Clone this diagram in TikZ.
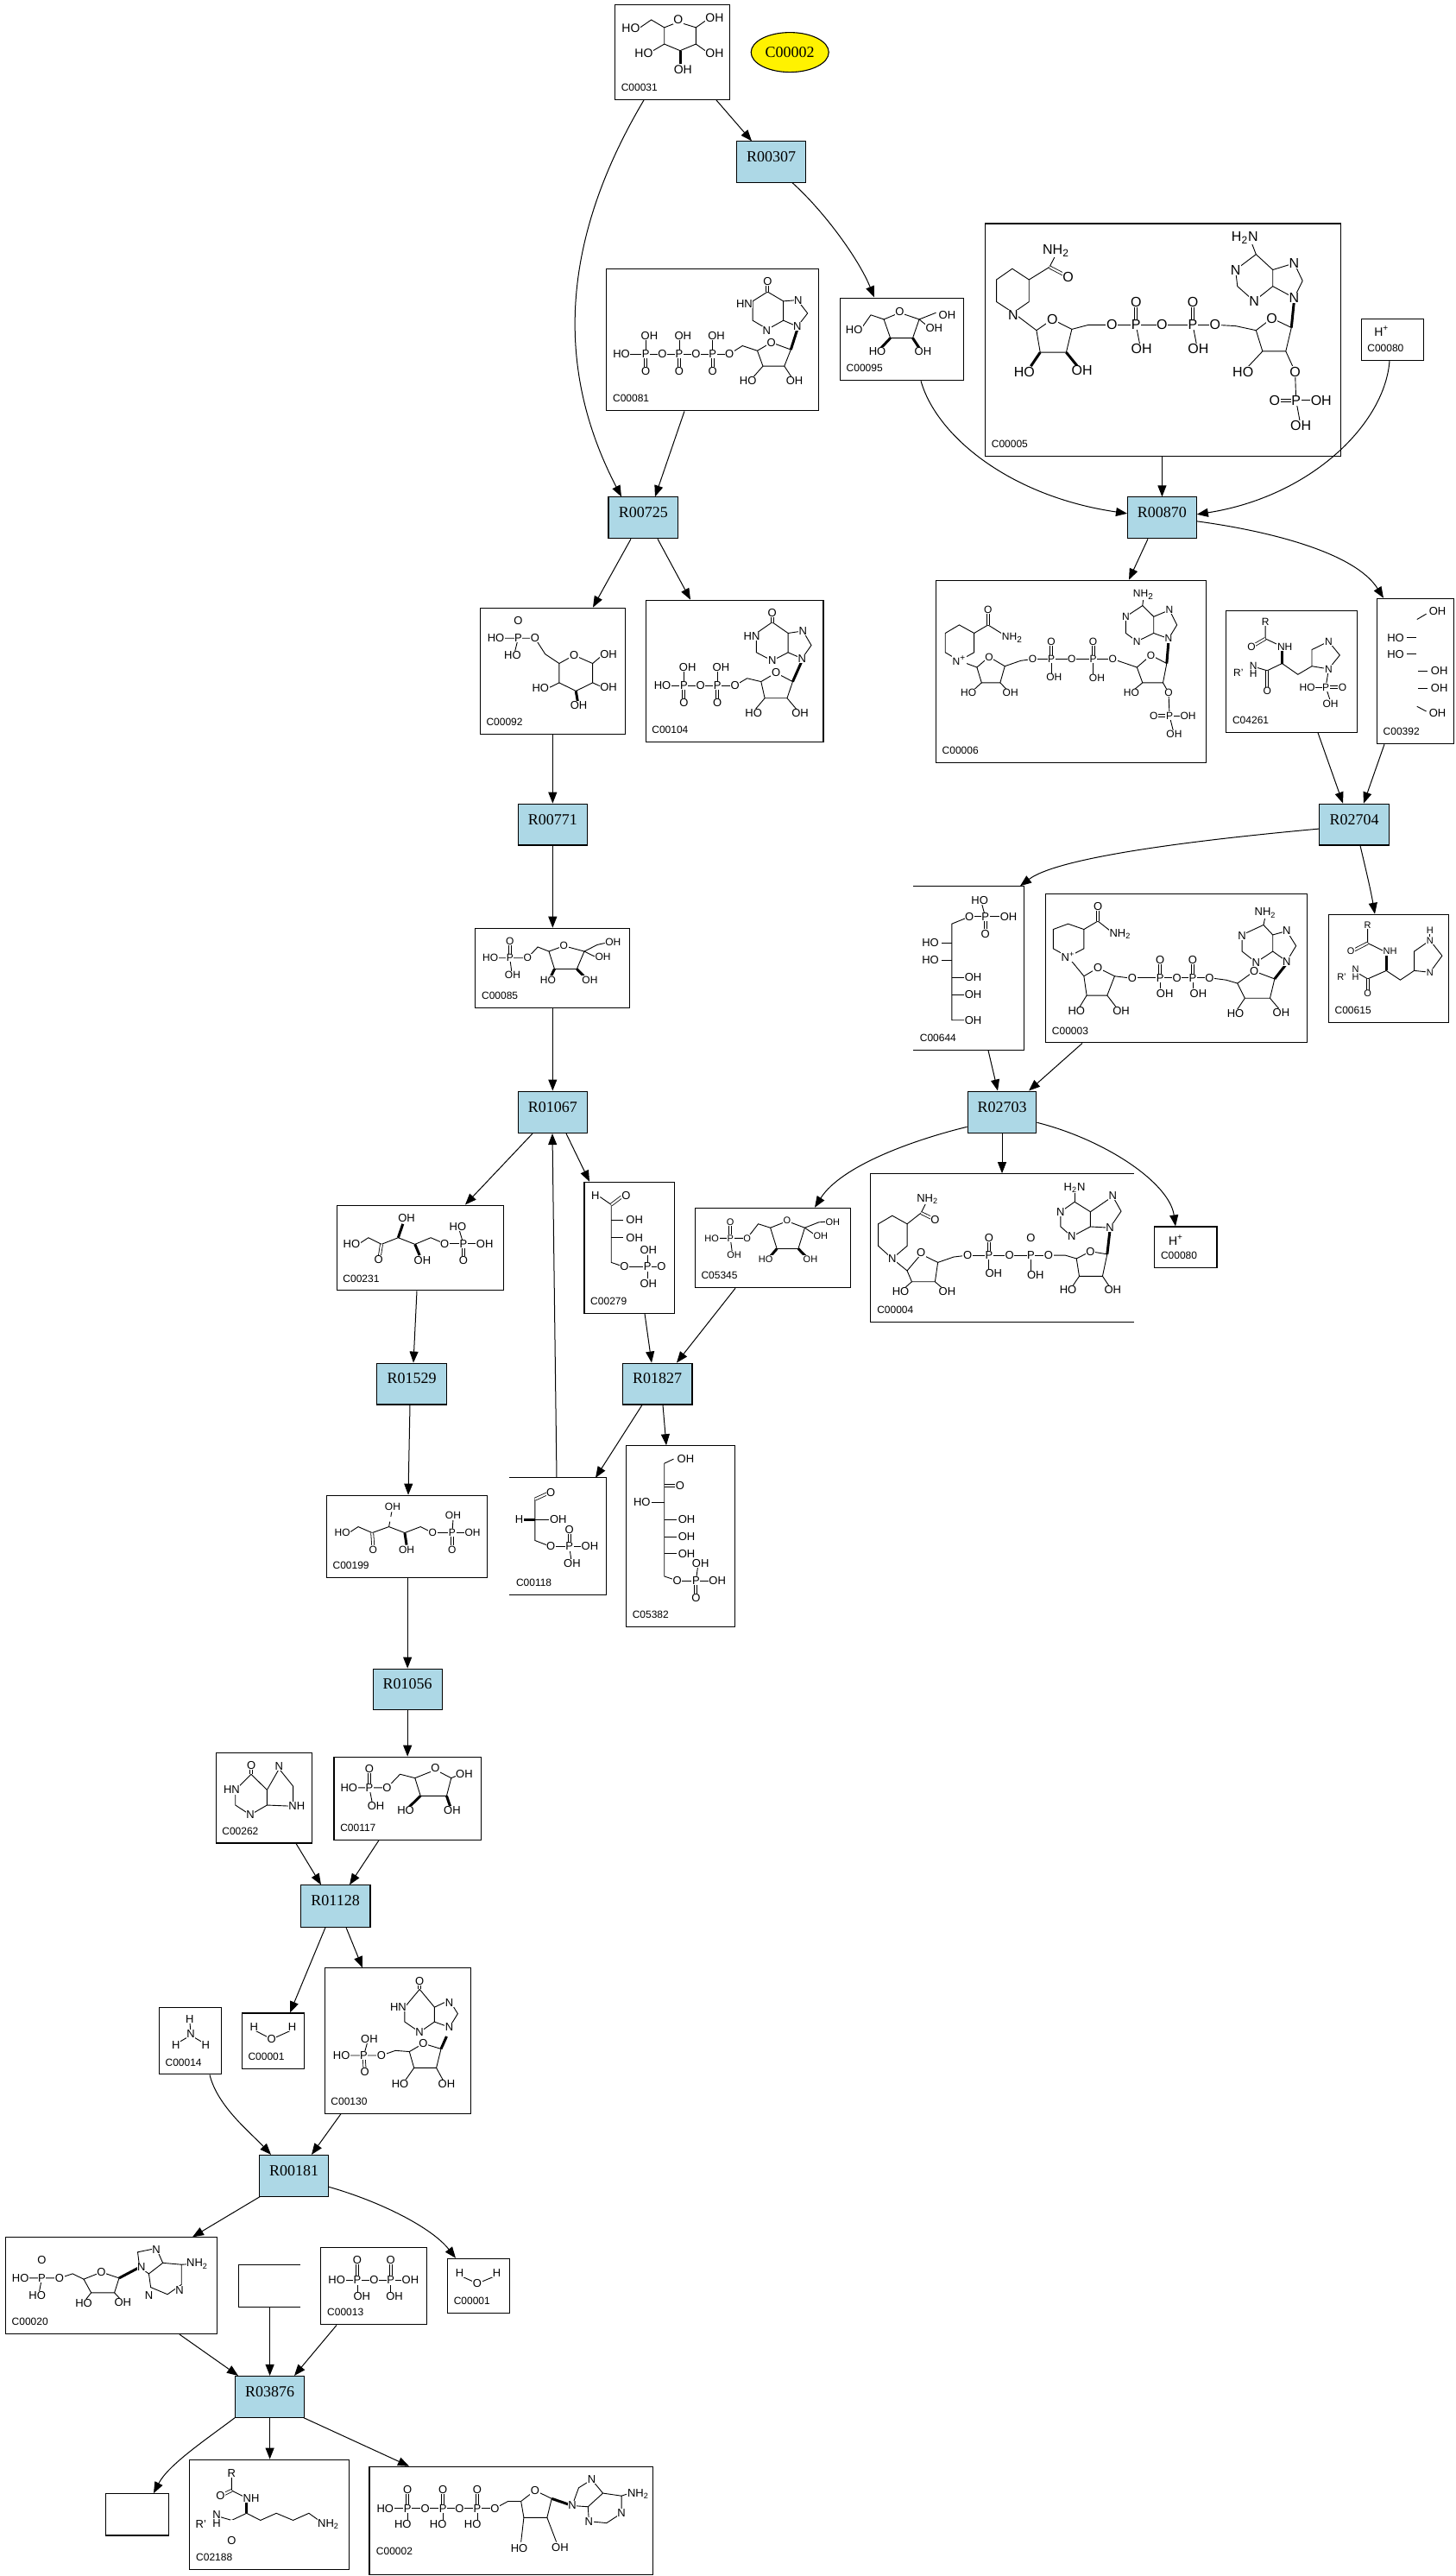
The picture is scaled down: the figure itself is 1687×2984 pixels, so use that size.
\documentclass[tikz,border=0pt]{standalone}
\usepackage{fontspec}
\setmainfont{Liberation Serif}
\setsansfont{Liberation Sans}
\usetikzlibrary{arrows.meta,fit,shapes.geometric}
\definecolor{rxnblue}{RGB}{173,216,230}
\newcommand\AFS[1]{\fontsize{#1}{#1}\selectfont}
\def\atsz{6.5}
\tikzset{
  rxn/.style={draw=black, fill=rxnblue, line width=0.55pt, inner sep=0pt, font=\rmfamily\AFS{9}},
  cbox/.style={draw=black, line width=0.55pt, inner sep=0pt},
  boxln/.style={line width=0.55pt},
  idl/.style={anchor=west, inner sep=0pt, font=\sffamily\AFS{6}},
  arr/.style={line width=0.5pt, -{Triangle[length=6.5pt,width=5pt]}},
  bd/.style={line width=0.45pt},
  db/.style={double, double distance=1.1pt, line width=0.4pt},
  wd/.style={line width=1.5pt},
  atm/.style={inner sep=0.3pt, fill=white, font=\sffamily\AFS{\atsz}},
  Z1/.style={x=0.539pt, y=-0.3189pt},
  Z2/.style={x=0.539pt, y=-0.3189pt, yshift=-500pt},
  Z3/.style={x=0.539pt, y=-0.3138pt, yshift=-1000pt},
}
\newcommand\Atm[2]{\node[atm] at (#1) {#2};}
\newcommand\Cpd[5][]{\node[cbox,#1, fit={(#3) (#4)}] (#2) {};
  \node[idl] at ([xshift=3.7pt,yshift=7.3pt]#2.south west) {#5};}
\newcommand\Rxn[3]{\node[rxn, fit={(#2) (#3)}] (#1) {#1};}
\begin{document}
\begin{tikzpicture}[x=0.5pt,y=-0.5pt]
\fill[white] (0,0) rectangle (1687,2984);
\useasboundingbox (0,0) rectangle (1687,2984);

%================ ZONE 1 =================
\begin{scope}[Z1]
\Cpd{C00031}{661,8}{784,181}{C00031}
\Cpd{C00081}{652,488}{880,746}{C00081}
\Cpd{C00095}{903,541}{1036,691}{C00095}
\Cpd{C00005}{1059,406}{1441,828}{C00005}
\Cpd{C00080a}{1463,579}{1530,654}{C00080}
\Cpd{C00092}{516,1104}{672,1334}{C00092}
\Cpd{C00104}{694,1090}{885,1348}{C00104}
\Cpd{C00006}{1006,1054}{1296,1385}{C00006}
\Cpd{C04261}{1318,1109}{1459,1330}{C04261}
\Cpd{C00392}{1480,1087}{1563,1351}{C00392}
\Rxn{R00307}{792,257}{866,331}
\Rxn{R00725}{654,903}{729,978}
\Rxn{R00870}{1212,903}{1286,978}
\Rxn{R00771}{557,1460}{631,1535}
\Rxn{R02704}{1418,1460}{1493,1535}
\node[draw=black, fill=yellow, ellipse, line width=0.55pt, minimum width=45pt, minimum height=23pt, inner sep=0pt, font=\rmfamily\AFS{9}] (C00002) at (849,95) {C00002};

% C00031
\begin{scope}\def\atsz{7}
\draw[bd] (729,40)--(748,50)--(748,80)--(731,92)--(714,80)--(714,50)--cycle;
\draw[bd] (714,50)--(700,36)--(688,50);
\draw[bd] (748,50)--(758,38);
\draw[bd] (748,80)--(758,92);
\draw[wd] (731,92)--(731,116);
\draw[bd] (714,80)--(702,92);
\Atm{729,35}{O} \Atm{678,52}{HO} \Atm{768,33}{OH} \Atm{692,96}{HO} \Atm{768,96}{OH} \Atm{734,127}{OH}
\end{scope}

% C00081
\draw[bd] (825,530)--(809,547)--(809,582)--(825,598)--(842,582)--(842,547)--cycle;
\draw[db] (825,530)--(825,515);
\draw[bd] (842,547)--(857,545)--(868,569)--(857,593)--(842,582);
\draw[bd] (814,637)--(829,622)--(850,635)--(843,665)--(820,665)--cycle;
\draw[wd] (850,635)--(857,598);
\draw[bd] (814,637)--(798,628)--(784,643);
\draw[bd] (820,665)--(808,688);
\draw[bd] (843,665)--(852,688);
\draw[bd] (668,643)--(784,643);
\foreach \x in {694,730,766}{\draw[bd] (\x,612)--(\x,643); \draw[db] (\x,643)--(\x,672);}
\Atm{825,511}{O} \Atm{800,552}{HN} \Atm{858,545}{N} \Atm{824,600}{N} \Atm{857,593}{N}
\Atm{698,610}{OH} \Atm{734,610}{OH} \Atm{770,610}{OH}
\Atm{668,643}{HO} \Atm{694,643}{P} \Atm{712,643}{O} \Atm{730,643}{P} \Atm{748,643}{O} \Atm{766,643}{P} \Atm{784,643}{O}
\Atm{694,675}{O} \Atm{730,675}{O} \Atm{766,675}{O}
\Atm{829,622}{O} \Atm{804,692}{HO} \Atm{854,692}{OH}

% C00095
\draw[bd] (950,580)--(967,568)--(988,580)--(981,614)--(957,614)--cycle;
\draw[bd] (950,580)--(936,572)--(926,596);
\draw[bd] (988,580)--(1006,568);
\draw[bd] (988,580)--(998,594);
\draw[wd] (981,614)--(988,632);
\draw[wd] (957,614)--(947,632);
\Atm{967,566}{O} \Atm{918,599}{HO} \Atm{1018,572}{OH} \Atm{1004,596}{OH} \Atm{943,638}{HO} \Atm{992,638}{OH}

% C00005
\begin{scope}\def\atsz{8}
\draw[bd] (1088,488)--(1106,508)--(1106,548)--(1089,568)--(1071,548)--(1071,508)--cycle;
\draw[bd] (1106,508)--(1128,485)--(1135,462);
\draw[db] (1128,485)--(1145,500);
\draw[bd] (1089,568)--(1114,600);
\draw[bd] (1114,600)--(1131,580)--(1152,598)--(1146,640)--(1118,640)--cycle;
\draw[bd] (1152,598)--(1170,590)--(1195,590);
\draw[wd] (1118,640)--(1108,665);
\draw[wd] (1146,640)--(1158,665);
\draw[bd] (1195,590)--(1306,590);
\draw[db] (1221,590)--(1221,552); \draw[bd] (1221,590)--(1225,625);
\draw[db] (1282,590)--(1282,552); \draw[bd] (1282,590)--(1286,625);
\draw[bd] (1306,590)--(1328,592)--(1350,600);
\draw[bd] (1350,600)--(1367,578)--(1388,595)--(1382,638)--(1357,638)--cycle;
\draw[wd] (1388,595)--(1391,545);
\draw[bd] (1357,638)--(1342,665);
\draw[bd] (1382,638)--(1392,675)--(1393,727)--(1398,773);
\draw[db] (1393,727)--(1370,727);
\draw[bd] (1393,727)--(1420,727);
\draw[bd] (1350,462)--(1328,490)--(1330,520)--(1348,547)--(1368,520)--(1368,490)--cycle;
\draw[bd] (1368,490)--(1391,478)--(1400,510)--(1391,541)--(1368,520);
\draw[bd] (1350,462)--(1345,440);
\Atm{1135,455}{NH\textsubscript{2}} \Atm{1148,503}{O} \Atm{1089,572}{N} \Atm{1131,580}{O}
\Atm{1195,590}{O} \Atm{1221,590}{P} \Atm{1249,590}{O} \Atm{1282,590}{P} \Atm{1306,590}{O}
\Atm{1221,548}{O} \Atm{1282,548}{O} \Atm{1227,634}{OH} \Atm{1288,634}{OH}
\Atm{1101,676}{HO} \Atm{1163,673}{OH}
\Atm{1338,432}{H\textsubscript{2}N} \Atm{1391,478}{N} \Atm{1328,490}{N} \Atm{1348,547}{N} \Atm{1391,541}{N}
\Atm{1367,578}{O} \Atm{1336,675}{HO} \Atm{1392,675}{O} \Atm{1370,727}{O} \Atm{1393,727}{P} \Atm{1420,727}{OH} \Atm{1398,773}{OH}
\end{scope}

% C00080a
\begin{scope}\def\atsz{7}
\Atm{1485,602}{H\textsuperscript{+}}
\end{scope}

% C00092
\draw[bd] (601,1205)--(617,1190)--(637,1205)--(637,1240)--(619,1255)--(601,1240)--cycle;
\draw[bd] (601,1205)--(586,1188)--(575,1159)--(533,1159);
\draw[db] (557,1159)--(557,1132);
\draw[bd] (557,1159)--(553,1186);
\draw[bd] (637,1205)--(646,1192);
\draw[bd] (637,1240)--(646,1247);
\draw[wd] (619,1255)--(621,1275);
\draw[bd] (601,1240)--(589,1250);
\Atm{557,1128}{O} \Atm{533,1159}{HO} \Atm{557,1159}{P} \Atm{575,1159}{O} \Atm{551,1190}{HO}
\Atm{617,1190}{O} \Atm{654,1189}{OH} \Atm{654,1248}{OH} \Atm{622,1281}{OH} \Atm{581,1250}{HO}

% C00104
\draw[bd] (830,1130)--(813,1150)--(813,1185)--(830,1200)--(847,1185)--(847,1150)--cycle;
\draw[db] (830,1130)--(830,1117);
\draw[bd] (847,1150)--(863,1146)--(872,1172)--(862,1196)--(847,1185);
\draw[bd] (818,1238)--(834,1222)--(852,1238)--(846,1268)--(822,1268)--cycle;
\draw[wd] (852,1238)--(862,1200);
\draw[bd] (818,1238)--(803,1232)--(790,1245);
\draw[bd] (822,1268)--(812,1288);
\draw[bd] (846,1268)--(856,1288);
\draw[bd] (712,1245)--(790,1245);
\foreach \x in {735,771}{\draw[bd] (\x,1214)--(\x,1245); \draw[db] (\x,1245)--(\x,1273);}
\Atm{830,1113}{O} \Atm{808,1155}{HN} \Atm{863,1146}{N} \Atm{830,1200}{N} \Atm{862,1196}{N}
\Atm{739,1212}{OH} \Atm{775,1212}{OH} \Atm{712,1245}{HO} \Atm{735,1245}{P} \Atm{753,1245}{O} \Atm{771,1245}{P} \Atm{790,1245}{O}
\Atm{735,1277}{O} \Atm{771,1277}{O} \Atm{834,1222}{O} \Atm{810,1295}{HO} \Atm{860,1295}{OH}

% C00006
\begin{scope}\def\atsz{6}
\draw[bd] (1031,1135)--(1047,1150)--(1047,1185)--(1031,1200)--(1016,1185)--(1016,1150)--cycle;
\draw[bd] (1047,1150)--(1062,1135)--(1078,1152);
\draw[db] (1062,1135)--(1062,1112);
\draw[bd] (1031,1200)--(1050,1212);
\draw[bd] (1050,1212)--(1063,1193)--(1080,1210)--(1075,1240)--(1055,1240)--cycle;
\draw[bd] (1080,1210)--(1097,1200)--(1110,1197);
\draw[bd] (1055,1240)--(1046,1254);
\draw[bd] (1075,1240)--(1083,1254);
\draw[bd] (1110,1197)--(1196,1197);
\foreach \x in {1130,1175}{\draw[db] (\x,1197)--(\x,1168); \draw[bd] (\x,1197)--(\x,1226);}
\draw[bd] (1196,1197)--(1210,1205)--(1222,1212);
\draw[bd] (1222,1212)--(1237,1190)--(1254,1205)--(1250,1240)--(1228,1240)--cycle;
\draw[wd] (1254,1205)--(1256,1164);
\draw[bd] (1228,1240)--(1218,1254);
\draw[bd] (1250,1240)--(1256,1258)--(1257,1300)--(1262,1334);
\draw[db] (1257,1300)--(1240,1300);
\draw[bd] (1257,1300)--(1277,1300);
\draw[bd] (1228,1100)--(1210,1120)--(1210,1150)--(1222,1165)--(1240,1150)--(1240,1120)--cycle;
\draw[bd] (1240,1120)--(1257,1108)--(1265,1135)--(1256,1160)--(1240,1150);
\draw[bd] (1228,1100)--(1229,1086);
\Atm{1062,1107}{O} \Atm{1088,1158}{NH\textsubscript{2}} \Atm{1031,1200}{N\textsuperscript{+}} \Atm{1063,1193}{O}
\Atm{1110,1197}{O} \Atm{1130,1197}{P} \Atm{1152,1197}{O} \Atm{1175,1197}{P} \Atm{1196,1197}{O}
\Atm{1130,1165}{O} \Atm{1175,1165}{O} \Atm{1133,1230}{OH} \Atm{1179,1232}{OH}
\Atm{1041,1258}{HO} \Atm{1086,1258}{OH}
\Atm{1229,1080}{NH\textsubscript{2}} \Atm{1257,1108}{N} \Atm{1210,1120}{N} \Atm{1222,1165}{N} \Atm{1256,1160}{N}
\Atm{1237,1190}{O} \Atm{1216,1258}{HO} \Atm{1256,1258}{O} \Atm{1240,1300}{O} \Atm{1257,1300}{P} \Atm{1277,1300}{OH} \Atm{1262,1334}{OH}
\end{scope}

% C04261
\begin{scope}\def\atsz{6}
\draw[bd] (1360,1137)--(1360,1160)--(1375,1172);
\draw[db] (1360,1160)--(1348,1172);
\draw[wd] (1378,1182)--(1378,1205);
\draw[bd] (1378,1205)--(1362,1218)--(1350,1212);
\draw[db] (1362,1218)--(1362,1250);
\draw[bd] (1378,1205)--(1395,1225)--(1410,1210);
\draw[bd] (1410,1210)--(1410,1180)--(1428,1165)--(1440,1190)--(1428,1215)--cycle;
\draw[bd] (1428,1215)--(1425,1248);
\draw[db] (1425,1248)--(1441,1248);
\draw[bd] (1425,1248)--(1405,1248);
\draw[bd] (1425,1248)--(1430,1274);
\Atm{1360,1130}{R} \Atm{1345,1175}{O} \Atm{1381,1175}{NH} \Atm{1347,1210}{N} \Atm{1347,1224}{H} \Atm{1331,1222}{R'}
\Atm{1362,1255}{O} \Atm{1428,1165}{N} \Atm{1428,1215}{N} \Atm{1405,1248}{HO} \Atm{1425,1248}{P} \Atm{1443,1248}{O} \Atm{1430,1278}{OH}
\end{scope}

% C00392
\draw[bd] (1523,1125)--(1533,1115);
\draw[bd] (1512,1158)--(1522,1158);
\draw[bd] (1512,1188)--(1522,1188);
\draw[bd] (1524,1219)--(1534,1219);
\draw[bd] (1524,1250)--(1534,1250);
\draw[bd] (1523,1283)--(1533,1292);
\Atm{1545,1110}{OH} \Atm{1500,1158}{HO} \Atm{1500,1188}{HO} \Atm{1547,1219}{OH} \Atm{1547,1250}{OH} \Atm{1545,1295}{OH}
\end{scope}

%================ ZONE 2 =================
\begin{scope}[Z2]
\Cpd{C00085}{511,118}{677,263}{C00085}
\Cpd[draw=none]{C00644}{982,42}{1100,339}{C00644}
\draw[boxln] (C00644.south west)--(C00644.south east)--(C00644.north east)--(C00644.north west);
\Cpd{C00003}{1124,55}{1405,326}{C00003}
\Cpd{C00615}{1428,93}{1557,289}{C00615}
\Cpd{C00231}{362,621}{541,776}{C00231}
\Cpd{C00279}{628,579}{725,817}{C00279}
\Cpd{C05345}{747,626}{914,771}{C05345}
\Cpd[draw=none]{C00004}{936,564}{1218,833}{C00004}
\draw[boxln] (C00004.north east)--(C00004.north west)--(C00004.south west)--(C00004.south east);
\Cpd{C00080b}{1241,660}{1308,735}{C00080}
\Cpd{C00199}{351,1148}{524,1298}{C00199}
\Cpd[draw=none]{C00118}{548,1117}{651,1328}{C00118}
\draw[boxln] (C00118.north west)--(C00118.north east)--(C00118.south east)--(C00118.south west);
\Cpd{C05382}{673,1058}{790,1387}{C05382}
\Rxn{R01067}{557,414}{631,490}
\Rxn{R02703}{1040,414}{1114,490}
\Rxn{R01529}{405,908}{480,983}
\Rxn{R01827}{669,908}{744,983}
\Rxn{R01056}{401,1463}{475,1538}

% C00085
\begin{scope}\def\atsz{6}
\draw[bd] (590,160)--(606,150)--(628,160)--(620,192)--(596,192)--cycle;
\draw[bd] (590,160)--(578,152)--(567,172)--(527,172);
\draw[db] (548,172)--(548,146);
\draw[bd] (548,172)--(550,198);
\draw[bd] (628,160)--(642,148)--(650,145);
\draw[bd] (628,160)--(640,170);
\draw[wd] (620,192)--(628,206);
\draw[wd] (596,192)--(592,206);
\Atm{548,142}{O} \Atm{527,172}{HO} \Atm{548,172}{P} \Atm{567,172}{O} \Atm{551,203}{OH}
\Atm{606,150}{O} \Atm{659,143}{OH} \Atm{648,170}{OH} \Atm{589,212}{HO} \Atm{634,212}{OH}
\end{scope}

% C00644
\draw[bd] (1042,97)--(1023,110)--(1023,285)--(1036,285);
\draw[bd] (1012,145)--(1023,145);
\draw[bd] (1012,176)--(1023,176);
\draw[bd] (1023,207)--(1036,207);
\draw[bd] (1023,239)--(1036,239);
\draw[bd] (1042,97)--(1082,97);
\draw[bd] (1059,97)--(1055,72);
\draw[db] (1059,97)--(1059,124);
\Atm{1053,67}{HO} \Atm{1042,97}{O} \Atm{1059,97}{P} \Atm{1084,97}{OH} \Atm{1059,128}{O}
\Atm{1000,145}{HO} \Atm{1000,176}{HO} \Atm{1046,207}{OH} \Atm{1046,239}{OH} \Atm{1046,285}{OH}

% C00003
\draw[bd] (1148,110)--(1165,120)--(1165,155)--(1148,170)--(1132,155)--(1132,120)--cycle;
\draw[bd] (1165,120)--(1180,105)--(1195,125);
\draw[db] (1180,105)--(1180,84);
\draw[bd] (1148,170)--(1165,205);
\draw[bd] (1165,205)--(1180,190)--(1198,205)--(1190,240)--(1168,240)--cycle;
\draw[bd] (1198,205)--(1212,208)--(1217,208);
\draw[bd] (1168,240)--(1160,262);
\draw[bd] (1190,240)--(1200,262);
\draw[bd] (1217,208)--(1300,208);
\foreach \x in {1247,1282}{\draw[db] (\x,208)--(\x,180); \draw[bd] (\x,208)--(\x,232);}
\draw[bd] (1300,208)--(1318,212)--(1330,218);
\draw[bd] (1330,218)--(1348,196)--(1370,210)--(1365,245)--(1338,245)--cycle;
\draw[wd] (1370,210)--(1383,182);
\draw[bd] (1338,245)--(1330,265);
\draw[bd] (1365,245)--(1375,265);
\draw[bd] (1358,112)--(1335,130)--(1335,160)--(1350,180)--(1368,160)--(1368,130)--cycle;
\draw[bd] (1368,130)--(1383,123)--(1393,150)--(1383,178)--(1368,160);
\draw[bd] (1358,112)--(1360,96);
\Atm{1180,78}{O} \Atm{1204,128}{NH\textsubscript{2}} \Atm{1148,170}{N\textsuperscript{+}} \Atm{1180,190}{O}
\Atm{1217,208}{O} \Atm{1247,208}{P} \Atm{1265,208}{O} \Atm{1282,208}{P} \Atm{1300,208}{O}
\Atm{1247,176}{O} \Atm{1282,176}{O} \Atm{1252,236}{OH} \Atm{1288,236}{OH}
\Atm{1157,268}{HO} \Atm{1205,268}{OH}
\Atm{1360,90}{NH\textsubscript{2}} \Atm{1383,123}{N} \Atm{1335,132}{N} \Atm{1350,180}{N} \Atm{1383,178}{N}
\Atm{1348,196}{O} \Atm{1328,273}{HO} \Atm{1377,272}{OH}

% C00615
\begin{scope}\def\atsz{5.5}
\draw[bd] (1470,118)--(1470,145)--(1488,160);
\draw[db] (1470,145)--(1455,158);
\draw[wd] (1490,168)--(1490,195);
\draw[bd] (1490,195)--(1470,210)--(1460,200);
\draw[db] (1470,210)--(1470,232);
\draw[bd] (1490,195)--(1505,212)--(1520,195);
\draw[bd] (1520,195)--(1520,160)--(1537,140)--(1550,168)--(1537,198)--cycle;
\draw[bd] (1537,140)--(1537,127);
\Atm{1470,113}{R} \Atm{1452,160}{O} \Atm{1494,160}{NH} \Atm{1457,192}{N} \Atm{1457,206}{H} \Atm{1442,206}{R'}
\Atm{1470,237}{O} \Atm{1537,122}{H} \Atm{1537,140}{N} \Atm{1537,198}{N}
\end{scope}

% C00231
\draw[bd] (386,691)--(396,680)--(410,692)--(428,680)--(446,692)--(463,680)--(478,691);
\draw[db] (410,692)--(408,714);
\draw[wd] (428,680)--(433,655);
\draw[wd] (446,692)--(451,712);
\draw[bd] (478,691)--(521,691);
\draw[bd] (498,691)--(494,668);
\draw[db] (498,691)--(498,716);
\Atm{378,691}{HO} \Atm{407,720}{O} \Atm{437,645}{OH} \Atm{454,722}{OH} \Atm{478,691}{O} \Atm{492,660}{HO} \Atm{498,691}{P} \Atm{521,691}{OH} \Atm{498,722}{O}

% C00279
\draw[bd] (645,606)--(657,620)--(657,725)--(671,733);
\draw[db] (657,620)--(668,606);
\draw[bd] (657,648)--(670,648);
\draw[bd] (657,680)--(670,680);
\draw[bd] (671,733)--(711,733);
\draw[bd] (696,733)--(696,708);
\draw[bd] (696,733)--(696,758);
\Atm{640,603}{H} \Atm{673,603}{O} \Atm{682,648}{OH} \Atm{682,680}{OH} \Atm{697,703}{OH} \Atm{671,733}{O} \Atm{696,733}{P} \Atm{711,733}{O} \Atm{697,763}{OH}

% C05345
\begin{scope}\def\atsz{5.5}
\draw[bd] (828,662)--(846,650)--(865,662)--(858,700)--(835,700)--cycle;
\draw[bd] (828,662)--(815,655)--(803,681)--(765,681);
\draw[db] (785,681)--(785,656);
\draw[bd] (785,681)--(787,707);
\draw[bd] (865,662)--(880,652)--(888,651);
\draw[bd] (865,662)--(876,675);
\draw[wd] (858,700)--(866,714);
\draw[wd] (835,700)--(828,714);
\Atm{785,652}{O} \Atm{765,681}{HO} \Atm{785,681}{P} \Atm{803,681}{O} \Atm{789,711}{OH}
\Atm{846,648}{O} \Atm{895,651}{OH} \Atm{882,677}{OH} \Atm{823,719}{HO} \Atm{871,719}{OH}
\end{scope}

% C00004
\draw[bd] (959,640)--(975,655)--(975,695)--(959,718)--(944,695)--(944,655)--cycle;
\draw[bd] (975,655)--(990,635)--(995,618);
\draw[db] (990,635)--(1002,645);
\draw[bd] (959,718)--(975,740);
\draw[bd] (975,740)--(990,710)--(1008,725)--(1005,760)--(980,760)--cycle;
\draw[bd] (1008,725)--(1025,715)--(1040,712);
\draw[bd] (980,760)--(972,772);
\draw[bd] (1005,760)--(1013,772);
\draw[bd] (1040,712)--(1127,712);
\foreach \x in {1063,1108}{\draw[db] (\x,712)--(\x,684); \draw[bd] (\x,712)--(\x,740);}
\draw[bd] (1127,712)--(1145,712)--(1157,718);
\draw[bd] (1157,718)--(1172,705)--(1190,710)--(1185,750)--(1160,750)--cycle;
\draw[wd] (1190,710)--(1193,666);
\draw[bd] (1160,750)--(1152,770);
\draw[bd] (1185,750)--(1193,770);
\draw[bd] (1155,615)--(1140,633)--(1140,660)--(1152,678)--(1172,660)--(1172,633)--cycle;
\draw[bd] (1172,633)--(1196,605)--(1205,632)--(1193,662)--(1172,660);
\draw[bd] (1155,615)--(1155,598);
\Atm{997,610}{NH\textsubscript{2}} \Atm{1005,647}{O} \Atm{959,718}{N} \Atm{990,707}{O}
\Atm{1040,712}{O} \Atm{1063,712}{P} \Atm{1085,712}{O} \Atm{1108,712}{P} \Atm{1127,712}{O}
\Atm{1063,680}{O} \Atm{1108,680}{O} \Atm{1068,745}{OH} \Atm{1113,748}{OH}
\Atm{968,778}{HO} \Atm{1018,778}{OH}
\Atm{1155,590}{H\textsubscript{2}N} \Atm{1140,633}{N} \Atm{1196,603}{N} \Atm{1152,678}{N} \Atm{1193,662}{N}
\Atm{1172,705}{O} \Atm{1148,775}{HO} \Atm{1196,775}{OH}

% C00080b
\begin{scope}\def\atsz{7}
\Atm{1264,685}{H\textsuperscript{+}}
\end{scope}

% C00199
\begin{scope}\def\atsz{6}
\draw[bd] (375,1216)--(385,1205)--(400,1216)--(418,1205)--(435,1216)--(452,1205)--(465,1216);
\draw[db] (400,1216)--(401,1240);
\draw[bd,dashed] (418,1205)--(421,1178);
\draw[wd] (435,1216)--(437,1238);
\draw[bd] (465,1216)--(508,1216);
\draw[bd] (486,1216)--(487,1192);
\draw[db] (486,1216)--(486,1242);
\Atm{368,1216}{HO} \Atm{401,1247}{O} \Atm{422,1168}{OH} \Atm{437,1247}{OH} \Atm{465,1216}{O} \Atm{487,1185}{OH} \Atm{486,1216}{P} \Atm{508,1216}{OH} \Atm{486,1247}{O}
\end{scope}

% C00118
\draw[bd] (575,1155)--(575,1230)--(592,1241);
\draw[db] (575,1155)--(588,1145);
\draw[wd] (575,1192)--(563,1192);
\draw[bd] (575,1192)--(590,1192);
\draw[bd] (592,1241)--(632,1241);
\draw[db] (612,1241)--(612,1215);
\draw[bd] (612,1241)--(614,1266);
\Atm{592,1143}{O} \Atm{558,1192}{H} \Atm{600,1192}{OH} \Atm{592,1241}{O} \Atm{612,1241}{P} \Atm{634,1241}{OH} \Atm{612,1210}{O} \Atm{615,1272}{OH}

% C05382
\draw[bd] (724,1082)--(714,1090)--(714,1295)--(728,1303);
\draw[db] (714,1130)--(726,1130);
\draw[bd] (700,1161)--(714,1161);
\foreach \y in {1192,1223,1254}{\draw[bd] (714,\y)--(727,\y);}
\draw[bd] (728,1303)--(770,1303);
\draw[bd] (748,1303)--(750,1278);
\draw[db] (748,1303)--(748,1328);
\Atm{737,1082}{OH} \Atm{731,1130}{O} \Atm{690,1161}{HO} \Atm{738,1192}{OH} \Atm{738,1223}{OH} \Atm{738,1254}{OH}
\Atm{753,1272}{OH} \Atm{728,1303}{O} \Atm{748,1303}{P} \Atm{771,1303}{OH} \Atm{748,1334}{O}
\end{scope}

%================ ZONE 3 =================
\begin{scope}[Z3]
\Cpd{C00262}{232,49}{335,215}{C00262}
\Cpd{C00117}{359,56}{517,209}{C00117}
\Cpd{C00014}{171,518}{238,642}{C00014}
\Cpd{C00001a}{260,529}{327,632}{C00001}
\Cpd{C00130}{349,446}{506,714}{C00130}
\Cpd{C00020}{6,943}{233,1121}{C00020}
\node[cbox, draw=none, fit={(257,994) (322,1071)}] (blank1) {};
\draw[boxln] (blank1.north east)--(blank1.north west)--(blank1.south west)--(blank1.south east);
\Cpd{C00013}{345,961}{459,1104}{C00013}
\Cpd{C00001b}{481,982}{548,1083}{C00001}
\node[cbox, fit={(114,1416) (181,1493)}] (blank2) {};
\Cpd{C02188}{204,1353}{375,1556}{C02188}
\node[cbox, fit={(397,1366) (702,1566)}] (C00002box) {};
\node[idl] at (404,1522) {C00002};
\Rxn{R01128}{323,293}{398,370}
\Rxn{R00181}{279,791}{353,867}
\Rxn{R03876}{253,1199}{327,1275}

% C00262
\draw[bd] (270,88)--(253,117)--(253,145)--(269,163)--(287,145)--(287,117)--cycle;
\draw[db] (270,88)--(270,77);
\draw[bd] (287,117)--(300,78)--(315,110)--(315,147)--(287,145);
\Atm{270,72}{O} \Atm{249,117}{HN} \Atm{300,73}{N} \Atm{269,163}{N} \Atm{319,147}{NH}

% C00117
\draw[bd] (446,95)--(468,80)--(485,95)--(480,128)--(452,128)--cycle;
\draw[bd] (446,95)--(430,88)--(416,113)--(375,113);
\draw[db] (397,113)--(397,84);
\draw[bd] (397,113)--(400,140);
\draw[bd] (485,95)--(492,90);
\draw[wd] (480,128)--(484,148);
\draw[wd] (452,128)--(440,148);
\Atm{397,78}{O} \Atm{375,113}{HO} \Atm{397,113}{P} \Atm{416,113}{O} \Atm{404,147}{OH}
\Atm{468,77}{O} \Atm{499,88}{OH} \Atm{436,155}{HO} \Atm{486,155}{OH}

% C00014
\draw[bd] (204,545)--(205,565);
\draw[bd] (205,570)--(190,585);
\draw[bd] (205,570)--(220,585);
\Atm{204,540}{H} \Atm{205,568}{N} \Atm{189,588}{H} \Atm{221,588}{H}

% C00001a
\draw[bd] (273,560)--(292,577)--(314,560);
\Atm{273,555}{H} \Atm{292,577}{O} \Atm{314,555}{H}

% C00130
\draw[bd] (451,485)--(435,518)--(435,545)--(451,564)--(467,545)--(467,518)--cycle;
\draw[db] (451,485)--(451,475);
\draw[bd] (467,518)--(483,505)--(492,530)--(483,555)--(467,545);
\draw[bd] (440,600)--(455,585)--(474,595)--(469,630)--(445,630)--cycle;
\draw[wd] (474,595)--(480,572);
\draw[bd] (440,600)--(425,598)--(410,607)--(367,607);
\draw[bd] (391,607)--(395,582);
\draw[db] (391,607)--(392,632);
\draw[bd] (445,630)--(436,652);
\draw[bd] (469,630)--(476,652);
\Atm{451,470}{O} \Atm{428,518}{HN} \Atm{483,510}{N} \Atm{451,564}{N} \Atm{483,555}{N}
\Atm{397,577}{OH} \Atm{367,607}{HO} \Atm{391,607}{P} \Atm{410,607}{O} \Atm{392,638}{O}
\Atm{455,585}{O} \Atm{430,660}{HO} \Atm{480,660}{OH}

% C00020
\draw[bd] (90,1020)--(109,1007)--(128,1018)--(123,1045)--(98,1045)--cycle;
\draw[bd] (90,1020)--(78,1010)--(64,1018)--(22,1018);
\draw[db] (45,1018)--(45,990);
\draw[bd] (45,1018)--(42,1045);
\draw[bd] (98,1045)--(92,1058);
\draw[bd] (123,1045)--(130,1058);
\draw[wd] (128,1018)--(150,998);
\draw[bd] (150,998)--(148,970)--(168,963)--(175,990)--(160,1010)--cycle;
\draw[bd] (175,990)--(195,993)--(195,1030)--(180,1048)--(162,1035)--(160,1010);
\draw[bd] (195,993)--(205,992);
\Atm{45,985}{O} \Atm{22,1018}{HO} \Atm{45,1018}{P} \Atm{64,1018}{O} \Atm{40,1050}{HO}
\Atm{109,1007}{O} \Atm{90,1065}{HO} \Atm{132,1063}{OH}
\Atm{152,998}{N} \Atm{168,965}{N} \Atm{212,992}{NH\textsubscript{2}} \Atm{193,1040}{N} \Atm{160,1050}{N}

% C00013
\draw[bd] (362,1022)--(440,1022);
\foreach \x in {384,420}{\draw[db] (\x,1022)--(\x,990); \draw[bd] (\x,1022)--(\x,1047);}
\Atm{384,985}{O} \Atm{420,985}{O} \Atm{362,1022}{HO} \Atm{384,1022}{P} \Atm{402,1022}{O} \Atm{420,1022}{P} \Atm{441,1022}{OH} \Atm{389,1052}{OH} \Atm{424,1052}{OH}

% C00001b
\draw[bd] (494,1013)--(513,1028)--(534,1013);
\Atm{494,1008}{H} \Atm{513,1028}{O} \Atm{534,1008}{H}

% C02188
\draw[bd] (249,1385)--(249,1410)--(265,1424);
\draw[db] (249,1410)--(237,1420);
\draw[wd] (265,1430)--(265,1452);
\draw[bd] (265,1452)--(249,1465)--(235,1458);
\draw[db] (249,1465)--(249,1495);
\draw[bd] (265,1452)--(280,1465)--(297,1452)--(315,1465)--(332,1452)--(345,1468);
\Atm{249,1378}{R} \Atm{237,1420}{O} \Atm{270,1424}{NH} \Atm{233,1455}{N} \Atm{233,1470}{H} \Atm{216,1472}{R'} \Atm{249,1502}{O} \Atm{353,1472}{NH\textsubscript{2}}

% C00002 (ATP)
\draw[bd] (414,1443)--(532,1443);
\foreach \x in {438,476,513}{\draw[db] (\x,1443)--(\x,1413); \draw[bd] (\x,1443)--(\x,1468);}
\draw[bd] (532,1443)--(546,1430)--(560,1430);
\draw[bd] (560,1430)--(575,1410)--(593,1425)--(588,1460)--(563,1460)--cycle;
\draw[bd] (563,1460)--(560,1505);
\draw[bd] (588,1460)--(598,1505);
\draw[wd] (593,1425)--(615,1438);
\draw[bd] (615,1438)--(622,1405)--(636,1390)--(648,1415)--(632,1440)--cycle;
\draw[bd] (648,1415)--(668,1420)--(668,1452)--(652,1470)--(633,1467)--(632,1440);
\draw[bd] (668,1420)--(675,1416);
\Atm{438,1408}{O} \Atm{476,1408}{O} \Atm{513,1408}{O}
\Atm{414,1443}{HO} \Atm{438,1443}{P} \Atm{457,1443}{O} \Atm{476,1443}{P} \Atm{494,1443}{O} \Atm{513,1443}{P} \Atm{532,1443}{O}
\Atm{433,1473}{HO} \Atm{471,1473}{HO} \Atm{508,1473}{HO}
\Atm{575,1410}{O} \Atm{636,1390}{N} \Atm{615,1438}{N} \Atm{686,1416}{NH\textsubscript{2}} \Atm{668,1452}{N} \Atm{633,1467}{N}
\Atm{558,1517}{HO} \Atm{602,1515}{OH}
\end{scope}

%================ CONNECTORS (px coordinates) =================
\draw[arr] (830,0 |- C00031.south) -- (871,0 |- R00307.north);
\draw[arr] (746,0 |- C00031.south) .. controls (654,271) and (639,420) .. (720,0 |- R00725.north);
\draw[arr] (918,0 |- R00307.south) .. controls (955,245) and (995,300) .. (1013,0 |- C00095.north);
\draw[arr] (793,0 |- C00081.south) -- (759,0 |- R00725.north);
\draw[arr] (1067,0 |- C00095.south) .. controls (1085,505) and (1170,575) .. ([yshift=2.5pt]R00870.west);
\draw[arr] (C00005.south -| R00870.north) -- (R00870.north);
\draw[arr] (1610,0 |- C00080a.south) .. controls (1605,490) and (1520,575) .. ([yshift=2pt]R00870.east);
\draw[arr] (731,0 |- R00725.south) -- (687,0 |- C00092.north);
\draw[arr] (762,0 |- R00725.south) -- (800,0 |- C00104.north);
\draw[arr] (1330,0 |- R00870.south) -- (1308,0 |- C00006.north);
\draw[arr] ([yshift=-2pt]R00870.east) .. controls (1470,615) and (1570,640) .. (1603,0 |- C00392.north);
\draw[arr] (C00092.south -| R00771.north) -- (R00771.north);
\draw[arr] (1527,0 |- C04261.south) -- (1556,0 |- R02704.north);
\draw[arr] (1604,0 |- C00392.south) -- (1580,0 |- R02704.north);
\draw[arr] ([yshift=-2.5pt]R02704.west) .. controls (1420,970) and (1230,990) .. (1182,0 |- C00644.north);
\draw[arr] (1576,0 |- R02704.south) .. controls (1582,1005) and (1588,1030) .. (1593,0 |- C00615.north);
\draw[arr] (R00771.south) -- (R00771.south |- C00085.north);
\draw[arr] (R01067.north |- C00085.south) -- (R01067.north);
\draw[arr] (1145,0 |- C00644.south) -- (1156,0 |- R02703.north);
\draw[arr] (1254,0 |- C00003.south) -- (1192,0 |- R02703.north);
\draw[arr] ([yshift=-8.5pt]R02703.west) .. controls (1060,1320) and (975,1350) .. (944,0 |- C05345.north);
\draw[arr] (R02703.south) -- (R02703.south |- C00004.north);
\draw[arr] ([yshift=-6pt]R02703.east) .. controls (1280,1320) and (1355,1370) .. (1362,0 |- C00080b.north);
\draw[arr] (617,0 |- R01067.south) -- (539,0 |- C00231.north);
\draw[arr] (656,0 |- R01067.south) -- (683,0 |- C00279.north);
\draw[arr] (645,0 |- C00118.north) -- (640,0 |- R01067.south);
\draw[arr] (483,0 |- C00231.south) -- (479,0 |- R01529.north);
\draw[arr] (747,0 |- C00279.south) -- (755,0 |- R01827.north);
\draw[arr] (852,0 |- C05345.south) -- (784,0 |- R01827.north);
\draw[arr] (475,0 |- R01529.south) -- (473,0 |- C00199.north);
\draw[arr] (744,0 |- R01827.south) -- (690,0 |- C00118.north);
\draw[arr] (768,0 |- R01827.south) -- (772,0 |- C05382.north);
\draw[arr] (R01056.north |- C00199.south) -- (R01056.north);
\draw[arr] (R01056.south) -- (R01056.south |- C00117.north);
\draw[arr] (343,0 |- C00262.south) -- (372,0 |- R01128.north);
\draw[arr] (439,0 |- C00117.south) -- (405,0 |- R01128.north);
\draw[arr] (377,0 |- R01128.south) -- (336,0 |- C00001a.north);
\draw[arr] (401,0 |- R01128.south) -- (420,0 |- C00130.north);
\draw[arr] (243,0 |- C00014.south) .. controls (252,2440) and (290,2470) .. (314,0 |- R00181.north);
\draw[arr] (395,0 |- C00130.south) -- (361,0 |- R00181.north);
\draw[arr] (301,0 |- R00181.south) -- (223,0 |- C00020.north);
\draw[arr] ([yshift=-6.5pt]R00181.east) .. controls (440,2550) and (500,2580) .. (528,0 |- C00001b.north);
\draw[arr] (208,0 |- C00020.south) -- (276,0 |- R03876.north);
\draw[arr] (blank1.south -| R03876.north) -- (R03876.north);
\draw[arr] (390,0 |- C00013.south) -- (341,0 |- R03876.north);
\draw[arr] (272,0 |- R03876.south) .. controls (240,2825) and (195,2855) .. (178,0 |- blank2.north);
\draw[arr] (R03876.south) -- (R03876.south |- C02188.north);
\draw[arr] (352,0 |- R03876.south) -- (474,0 |- C00002box.north);
\end{tikzpicture}
\end{document}
